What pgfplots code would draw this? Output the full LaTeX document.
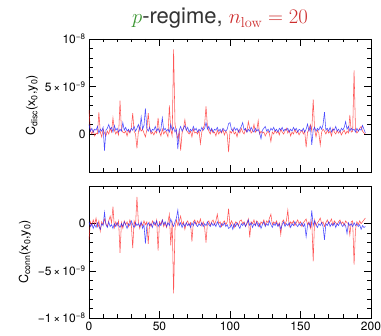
\documentclass[border=0pt]{standalone}
\usepackage{pgfplots}
\pgfplotsset{compat=1.18}
\usepackage{pgfplotstable}
\usepackage[no-math]{fontspec}
\setmainfont{TeX Gyre Heros}
\definecolor{tgreen}{RGB}{60,150,50}
\definecolor{tred}{RGB}{205,45,45}
\definecolor{lred}{RGB}{255,30,30}
\definecolor{lblue}{RGB}{30,30,255}
\pgfplotstableread{
x tr tb br bb
0 2.5 1.0 -1.7 0.2
1 0.3 0.3 0.2 -0.3
2 0.0 0.6 -0.2 0.0
3 0.4 0.2 0.4 -0.5
4 -0.2 0.5 -0.1 -0.1
5 0.1 0.4 0.6 -0.4
6 0.0 0.8 -0.3 0.1
7 2.3 0.1 0.3 -0.3
8 0.2 0.5 -0.8 -0.6
9 -0.3 0.3 0.2 0.0
10 0.5 0.7 -0.1 -0.2
11 0.1 -1.75 0.5 1.2
12 -0.2 0.4 0.0 -0.1
13 0.3 0.6 -0.3 -0.4
14 0.0 1.0 0.3 0.2
15 0.6 0.5 0.8 -0.3
16 0.2 0.7 0.1 -0.1
17 1.7 0.2 1.8 -0.5
18 0.4 0.9 -0.4 0.0
19 0.0 0.4 0.2 -0.3
20 0.3 0.6 -0.2 0.1
21 -0.1 0.2 0.3 -0.2
22 3.5 0.5 -3.1 -0.4
23 0.5 0.3 0.1 0.0
24 0.2 1.2 -0.5 -0.3
25 0.1 0.4 0.3 0.2
26 0.3 0.7 -0.1 -0.1
27 -0.2 0.3 0.2 -0.5
28 0.4 0.5 -0.3 0.0
29 0.1 0.2 0.4 -0.2
30 0.6 0.6 0.0 0.3
31 2.2 0.4 -2.6 -0.1
32 0.3 0.8 0.3 -0.4
33 0.0 0.3 -0.2 0.1
34 -1.5 0.6 2.85 -0.2
35 0.2 1.0 0.2 0.0
36 0.8 0.4 -0.5 -0.3
37 0.3 1.8 0.1 0.2
38 0.5 0.5 -0.2 -0.5
39 0.1 0.9 0.3 -0.1
40 -0.3 2.7 -0.1 -2.1
41 0.4 0.6 0.2 -0.3
42 2.2 0.3 -2.15 0.1
43 0.6 0.7 0.1 -0.2
44 0.0 0.2 -0.3 0.0
45 0.2 0.5 0.3 -0.4
46 -0.1 0.4 0.0 0.2
47 0.3 0.8 -0.2 -0.1
48 0.1 0.3 0.4 0.3
49 1.7 0.6 -2.85 -0.3
50 0.2 0.2 0.2 0.0
51 -0.2 0.5 -0.1 -0.2
52 0.5 1.7 0.4 0.4
53 0.0 0.4 -0.3 -0.1
54 0.3 0.6 0.1 0.2
55 0.1 0.3 -0.4 -0.3
56 -0.3 0.5 0.2 0.1
57 3.0 0.2 1.0 -0.2
58 0.4 1.0 -2.3 0.5
59 -0.2 0.4 0.3 0.0
60 8.9 0.7 -7.4 -0.3
61 1.0 0.2 -0.5 0.2
62 0.2 0.5 0.4 0.6
63 -0.5 -1.6 -0.2 1.45
64 0.3 0.4 0.3 -0.2
65 -1.75 0.8 0.8 0.1
66 0.1 0.3 -0.1 -0.4
67 0.6 0.6 0.2 0.0
68 1.5 0.9 -0.6 -0.3
69 0.4 0.4 0.1 0.1
70 0.2 0.7 0.3 -0.2
71 0.0 0.2 -0.2 0.0
72 0.3 0.5 0.1 -0.4
73 -0.3 0.3 -1.9 0.1
74 0.5 0.8 0.2 -0.2
75 0.1 0.4 0.4 0.2
76 0.2 0.6 -0.1 -0.1
77 0.0 0.2 0.3 -0.3
78 0.4 0.5 0.0 0.0
79 -1.0 0.3 0.5 -0.2
80 0.2 0.7 -0.2 0.1
81 0.6 0.4 0.2 -0.3
82 1.0 0.6 -0.4 0.0
83 2.9 1.2 -2.0 -0.2
84 0.8 0.5 0.1 0.2
85 0.3 0.8 0.3 -0.1
86 0.0 0.3 -0.2 -0.3
87 0.5 0.6 0.2 0.1
88 0.1 0.2 0.4 -0.2
89 0.2 0.5 -0.1 0.0
90 -0.2 0.4 0.3 -0.3
91 0.4 0.7 1.0 0.2
92 0.0 0.3 0.0 -0.1
93 0.3 0.5 0.2 -0.4
94 0.1 0.2 -0.3 0.0
95 0.5 0.6 0.1 -0.2
96 -0.1 0.4 0.3 0.1
97 0.3 0.3 -0.1 -0.3
98 0.0 0.5 0.2 -0.1
99 -1.9 1.1 1.6 -0.5
100 0.3 1.2 -0.2 -0.4
101 0.1 0.5 0.3 -0.1
102 0.5 0.3 0.0 -0.6
103 0.0 0.7 -0.4 0.0
104 0.2 0.4 0.2 -0.3
105 -0.3 0.6 0.1 0.1
106 0.4 0.2 -0.2 -0.2
107 0.1 0.5 0.3 -0.5
108 0.6 0.8 0.4 0.0
109 0.2 1.2 0.0 -0.2
110 0.0 0.4 0.2 0.1
111 0.5 0.6 -0.3 -0.3
112 0.2 0.2 0.1 0.0
113 1.3 0.5 0.5 0.4
114 0.6 0.3 -1.45 -0.2
115 0.1 0.7 0.2 0.1
116 0.3 0.4 0.0 -0.4
117 1.0 0.2 0.4 0.0
118 0.2 0.6 -0.2 -0.2
119 0.4 0.3 0.3 0.2
120 1.4 0.5 0.1 -0.3
121 0.0 0.1 -0.3 0.0
122 0.3 -0.5 0.2 -0.5
123 0.1 0.4 0.0 -0.1
124 0.2 0.6 0.4 0.2
125 -0.2 0.8 -0.2 -0.3
126 0.1 0.3 0.3 0.0
127 0.3 0.5 0.1 -0.2
128 0.0 0.2 0.6 0.3
129 -0.8 0.6 1.0 -0.1
130 0.2 0.4 -0.1 -0.4
131 0.0 0.7 0.2 0.0
132 0.4 0.3 0.0 -0.2
133 0.1 0.5 0.3 0.1
134 0.3 0.2 -0.2 -0.3
135 -0.1 0.6 0.1 0.0
136 0.5 0.4 -1.15 -0.6
137 0.2 0.7 0.2 -0.1
138 0.0 0.3 0.4 0.2
139 0.3 0.5 -0.1 -0.3
140 0.6 0.4 0.3 0.0
141 0.1 0.6 1.45 -0.2
142 0.4 0.2 -0.3 0.1
143 -0.2 0.5 0.2 -0.4
144 0.2 0.3 0.0 0.0
145 0.0 0.7 0.3 -0.2
146 0.5 0.4 -0.2 0.2
147 0.1 0.6 0.1 -0.1
148 0.3 0.2 0.4 -0.3
149 -0.1 0.5 0.0 0.0
150 0.2 0.4 0.2 -0.2
151 0.4 0.3 -0.3 0.1
152 0.0 0.6 0.1 -0.3
153 0.3 0.2 0.3 0.0
154 -1.4 0.5 0.5 -1.4
155 0.2 1.05 -0.1 -0.2
156 0.5 0.3 0.2 0.1
157 1.0 0.8 -0.5 -0.3
158 0.3 -1.15 0.3 1.4
159 3.65 0.4 -4.0 -0.2
160 0.5 0.7 0.4 0.3
161 -0.3 0.3 -0.2 -0.1
162 0.4 0.6 0.1 -0.4
163 0.1 0.4 0.3 0.0
164 -1.15 0.8 0.6 -0.2
165 0.2 0.5 0.0 0.1
166 0.5 1.0 0.2 -0.3
167 0.3 2.3 -0.3 -1.7
168 0.0 0.4 0.1 0.0
169 0.4 0.6 0.4 -0.2
170 0.1 0.3 0.0 0.2
171 0.3 0.7 0.2 -0.3
172 -0.2 0.2 0.5 0.0
173 0.6 0.5 -0.2 -0.2
174 0.2 0.4 0.3 0.1
175 0.0 0.8 0.1 -0.4
176 0.4 0.3 -0.1 0.0
177 0.1 0.5 0.2 -0.2
178 0.3 0.2 0.4 0.2
179 -0.1 0.6 0.0 -0.1
180 0.2 0.4 0.2 -0.3
181 0.4 0.7 -0.2 0.0
182 0.0 1.3 0.3 -0.2
183 0.3 0.5 0.1 -1.05
184 0.1 0.8 0.0 0.1
185 2.0 0.3 -1.2 -0.2
186 0.2 0.6 0.2 0.0
187 0.3 0.4 0.3 -0.3
188 6.7 0.5 -4.35 0.1
189 0.5 0.2 -0.6 -0.2
190 0.1 0.6 0.2 0.0
191 0.3 0.3 -0.1 -0.3
192 0.6 0.5 0.3 -0.1
193 0.8 0.4 0.0 -0.6
194 0.3 0.9 0.2 -0.2
195 0.1 0.5 0.4 -0.4
196 0.0 0.1 0.6 -0.3
}\data
\pgfplotsset{
  panel/.style={
    scale only axis, width=282pt,
    xmin=0, xmax=200, xtick={0,50,...,200}, minor x tick num=4,
    minor y tick num=4,
    tick align=inside, major tick length=7pt, minor tick length=3.5pt,
    every tick/.style={black, line width=0.5pt},
    axis line style={line width=0.6pt},
    tick label style={font=\fontsize{12}{14}\selectfont},
    label style={font=\fontsize{12.5}{14}\selectfont},
    /pgf/number format/assume math mode=true,
  },
  rline/.style={lred, opacity=0.75, line width=0.55pt, no marks},
  bline/.style={lblue, opacity=0.8, line width=0.55pt, no marks},
}
\begin{document}
\begin{tikzpicture}
\path[use as bounding box] (0,0) rectangle (381pt,336pt);
\begin{axis}[panel, at={(89pt,164pt)}, anchor=south west, height=133pt,
  ymin=-4, ymax=10, ytick={0,5,10},
  yticklabels={0, 5{\,}×{\,}10\textsuperscript{−9}, 10\textsuperscript{−8}},
  xticklabels={},
  ylabel={C\textsubscript{disc}(x\textsubscript{0},y\textsubscript{0})}]
\addplot[rline] table[x=x, y=tr] {\data};
\addplot[bline] table[x=x, y=tb] {\data};
\end{axis}
\begin{axis}[panel, at={(89pt,18pt)}, anchor=south west, height=132pt,
  ymin=-10, ymax=4, ytick={-10,-5,0},
  yticklabels={−1{\,}×{\,}10\textsuperscript{−8}, −5{\,}×{\,}10\textsuperscript{−9}, 0},
  ylabel={C\textsubscript{conn}(x\textsubscript{0},y\textsubscript{0})}]
\addplot[rline] table[x=x, y=br] {\data};
\addplot[bline] table[x=x, y=bb] {\data};
\end{axis}
\node[anchor=base] at (220pt,312pt) {\fontsize{22}{26}\selectfont{\color{tgreen}$p$}{\color{black!80}-regime,} {\color{tred}$n_{\mathrm{low}} = 20$}};
\end{tikzpicture}
\end{document}
